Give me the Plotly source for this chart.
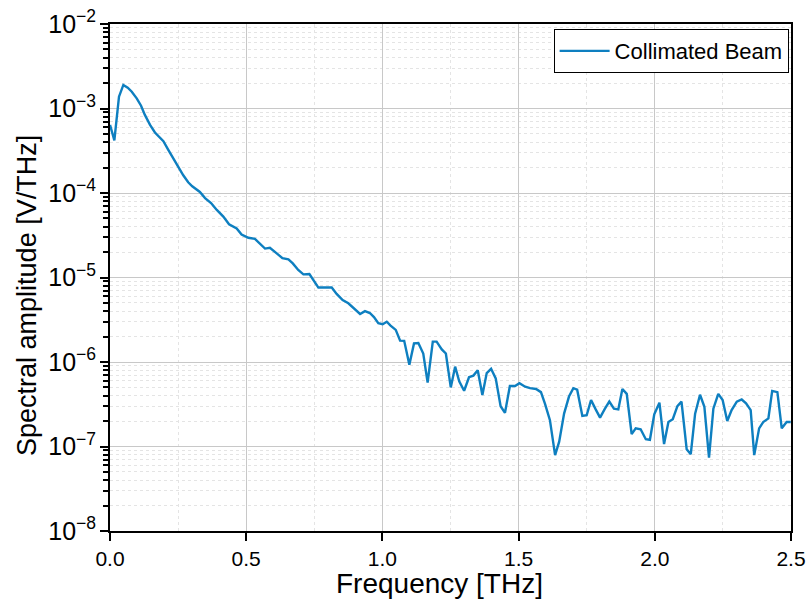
import plotly.graph_objects as go

freq = [0.000, 0.016, 0.033, 0.049, 0.065, 0.080, 0.098, 0.114, 0.128, 0.147,
        0.165, 0.181, 0.196, 0.214, 0.232, 0.251, 0.269, 0.287, 0.302, 0.330,
        0.349, 0.371, 0.392, 0.416, 0.437, 0.465, 0.483, 0.508, 0.532, 0.569,
        0.587, 0.612, 0.633, 0.655, 0.671, 0.691, 0.710, 0.732, 0.746, 0.765,
        0.789, 0.814, 0.832, 0.854, 0.875, 0.896, 0.918, 0.936, 0.954, 0.969,
        0.985, 1.001, 1.016, 1.030, 1.049, 1.065, 1.080, 1.099, 1.116, 1.132,
        1.150, 1.166, 1.185, 1.199, 1.218, 1.233, 1.251, 1.267, 1.282, 1.300,
        1.318, 1.334, 1.350, 1.367, 1.383, 1.399, 1.416, 1.434, 1.450, 1.468,
        1.487, 1.503, 1.524, 1.542, 1.564, 1.582, 1.597, 1.615, 1.634, 1.649,
        1.667, 1.685, 1.701, 1.715, 1.734, 1.750, 1.766, 1.783, 1.799, 1.817,
        1.833, 1.850, 1.866, 1.881, 1.897, 1.915, 1.930, 1.948, 1.967, 1.982,
        1.998, 2.017, 2.034, 2.050, 2.066, 2.083, 2.098, 2.117, 2.132, 2.148,
        2.166, 2.182, 2.199, 2.215, 2.233, 2.249, 2.266, 2.282, 2.301, 2.319,
        2.335, 2.352, 2.365, 2.383, 2.398, 2.417, 2.431, 2.450, 2.466, 2.484,
        2.499]

amplitude = [6.4e-4, 4.2e-4, 1.38e-3, 1.9e-3, 1.76e-3, 1.58e-3, 1.32e-3, 1.08e-3, 8.4e-4, 6.4e-4,
             5.2e-4, 4.65e-4, 4.1e-4, 3.24e-4, 2.57e-4, 2.04e-4, 1.62e-4, 1.34e-4, 1.2e-4, 1.03e-4,
             8.7e-5, 7.6e-5, 6.3e-5, 5.25e-5, 4.27e-5, 3.8e-5, 3.22e-5, 2.95e-5, 2.87e-5, 2.2e-5,
             2.25e-5, 1.93e-5, 1.69e-5, 1.64e-5, 1.47e-5, 1.23e-5, 1.09e-5, 1.1e-5, 9.3e-6, 7.6e-6,
             7.6e-6, 7.6e-6, 6.4e-6, 5.4e-6, 4.95e-6, 4.3e-6, 3.7e-6, 4.0e-6, 3.8e-6, 3.4e-6,
             2.88e-6, 2.8e-6, 3.0e-6, 2.7e-6, 2.4e-6, 1.79e-6, 1.78e-6, 9.3e-7, 1.66e-6, 1.68e-6,
             1.26e-6, 5.7e-7, 1.74e-6, 1.74e-6, 1.41e-6, 1.26e-6, 5.0e-7, 8.8e-7, 5.9e-7, 4.57e-7,
             6.6e-7, 6.9e-7, 8.0e-7, 4.07e-7, 7.4e-7, 8.3e-7, 6.4e-7, 3.0e-7, 2.5e-7, 5.2e-7,
             5.2e-7, 5.6e-7, 5.1e-7, 4.9e-7, 4.8e-7, 4.4e-7, 3.2e-7, 2.05e-7, 7.9e-8, 1.14e-7,
             2.45e-7, 3.9e-7, 4.9e-7, 4.7e-7, 2.3e-7, 2.35e-7, 3.55e-7, 2.75e-7, 2.2e-7, 2.8e-7,
             3.4e-7, 2.8e-7, 2.75e-7, 4.8e-7, 4.2e-7, 1.4e-7, 1.64e-7, 1.6e-7, 1.22e-7, 1.2e-7,
             2.4e-7, 3.3e-7, 1.07e-7, 1.95e-7, 2.1e-7, 3.0e-7, 3.4e-7, 9.3e-8, 8.1e-8, 2.45e-7,
             4.1e-7, 2.95e-7, 7.4e-8, 2.8e-7, 4.2e-7, 3.55e-7, 2.0e-7, 2.7e-7, 3.4e-7, 3.6e-7,
             3.25e-7, 2.7e-7, 7.9e-8, 1.64e-7, 1.95e-7, 2.15e-7, 4.55e-7, 4.4e-7, 1.64e-7, 1.95e-7,
             1.95e-7]

series_name = "Collimated Beam"
x_title = "Frequency [THz]"
y_title = "Spectral amplitude [V/THz]"
x_ticks = [0.0, 0.5, 1.0, 1.5, 2.0, 2.5]
x_ticklabels = ["0.0", "0.5", "1.0", "1.5", "2.0", "2.5"]

FONT = "Liberation Sans, Arial, sans-serif"

fig = go.Figure()
fig.add_trace(go.Scatter(
    x=freq, y=amplitude, mode="lines", name=series_name,
    line=dict(color="#0E7FC0", width=2.4),
))

fig.update_layout(
    width=810, height=605,
    margin=dict(l=110, r=19, t=24, b=74, autoexpand=False),
    paper_bgcolor="white", plot_bgcolor="white",
    font=dict(family=FONT, color="black"),
    showlegend=True,
    legend=dict(
        x=0.9965, y=0.99, xanchor="right", yanchor="top",
        bgcolor="white", bordercolor="black", borderwidth=1,
        font=dict(family=FONT, size=22, color="black"),
        itemwidth=50, tracegroupgap=0,
    ),
    annotations=[
        dict(text=x_title, xref="paper", yref="paper", x=0.484, y=-0.104,
             xanchor="center", yanchor="middle", showarrow=False,
             font=dict(family=FONT, size=28, color="black")),
        dict(text=y_title, xref="paper", yref="paper", x=-0.1219, y=0.4655,
             xanchor="center", yanchor="middle", showarrow=False, textangle=-90,
             font=dict(family=FONT, size=27, color="black")),
    ],
)

fig.update_xaxes(
    range=[0, 2.5], automargin=False,
    tickmode="array", tickvals=x_ticks, ticktext=x_ticklabels,
    ticks="outside", ticklen=8, tickwidth=2, tickcolor="black",
    showline=True, linecolor="black", linewidth=2, mirror=True,
    showgrid=True, gridcolor="#c8c8c8", gridwidth=1,
    minor=dict(tickvals=[0.25, 0.75, 1.25, 1.75, 2.25], showgrid=True,
               gridcolor="#e4e4e4", griddash="dot", gridwidth=1, ticks=""),
    zeroline=False,
    tickfont=dict(family=FONT, size=21, color="black"),
)

fig.update_yaxes(
    type="log", range=[-8, -2], dtick=1, exponentformat="power", automargin=False,
    ticks="outside", ticklen=8, tickwidth=2, tickcolor="black",
    showline=True, linecolor="black", linewidth=2, mirror=True,
    showgrid=True, gridcolor="#c8c8c8", gridwidth=1,
    minor=dict(dtick="D1", showgrid=True, gridcolor="#e4e4e4", griddash="dot",
               gridwidth=1, ticks="outside", ticklen=5, tickwidth=1.5, tickcolor="black"),
    zeroline=False,
    tickfont=dict(family=FONT, size=20, color="black"),
)

fig.write_html("out.html", config={"displayModeBar": False},
               post_script="document.body.style.margin='0px';")
